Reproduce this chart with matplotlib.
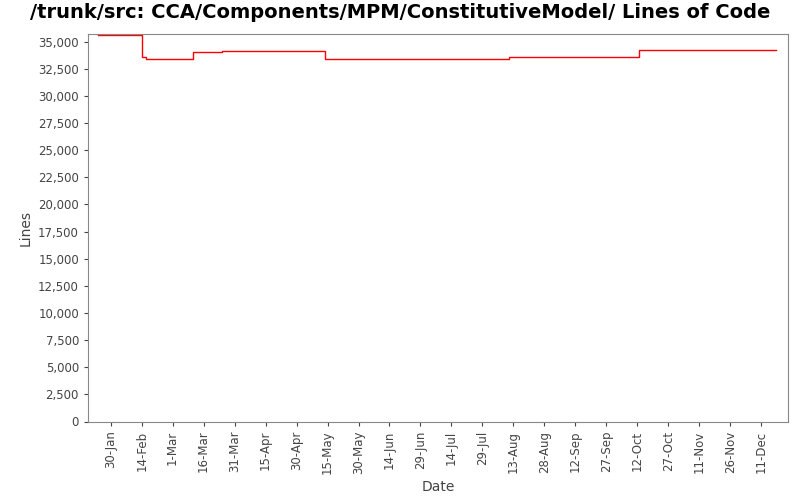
import matplotlib
matplotlib.use("Agg")
import matplotlib.pyplot as plt
import matplotlib.dates as mdates
from matplotlib.ticker import FuncFormatter
import datetime as dt

dates = ["2006-01-24","2006-02-14","2006-02-16","2006-03-11","2006-03-25","2006-05-14","2006-08-11","2006-10-13","2006-12-18"]
lines = [35620,33590,33400,34050,34140,33400,33590,34230,34230]
tick_dates = ["2006-01-30","2006-02-14","2006-03-01","2006-03-16","2006-03-31","2006-04-15","2006-04-30","2006-05-15","2006-05-30","2006-06-14","2006-06-29","2006-07-14","2006-07-29","2006-08-13","2006-08-28","2006-09-12","2006-09-27","2006-10-12","2006-10-27","2006-11-11","2006-11-26","2006-12-11"]

d = [dt.datetime.fromisoformat(s) for s in dates]
td = [dt.datetime.fromisoformat(s) for s in tick_dates]

fig = plt.figure(figsize=(8,5), dpi=100)
ax = fig.add_axes([0.11, 0.157, 0.875, 0.775])
ax.step(d, lines, where="post", color="red", lw=1)
ax.set_xlim(dt.datetime(2006,1,19), dt.datetime(2006,12,24))
ax.set_ylim(0, 35700)
ax.set_yticks(range(0, 35001, 2500))
ax.yaxis.set_major_formatter(FuncFormatter(lambda v, p: f"{int(v):,}"))
ax.set_xticks(td)
ax.set_xticklabels([f"{x.day}-{x.strftime('%b')}" for x in td], rotation=90)
ax.tick_params(labelsize=8.5, colors="#444444", length=3)
for s in ax.spines.values():
    s.set_color("#888888")
ax.set_xlabel("Date", fontsize=10, color="#444444")
ax.set_ylabel("Lines", fontsize=10, color="#444444")
fig.suptitle("/trunk/src: CCA/Components/MPM/ConstitutiveModel/ Lines of Code", fontsize=14, fontweight="bold", y=0.995)
fig.savefig("out.png")
